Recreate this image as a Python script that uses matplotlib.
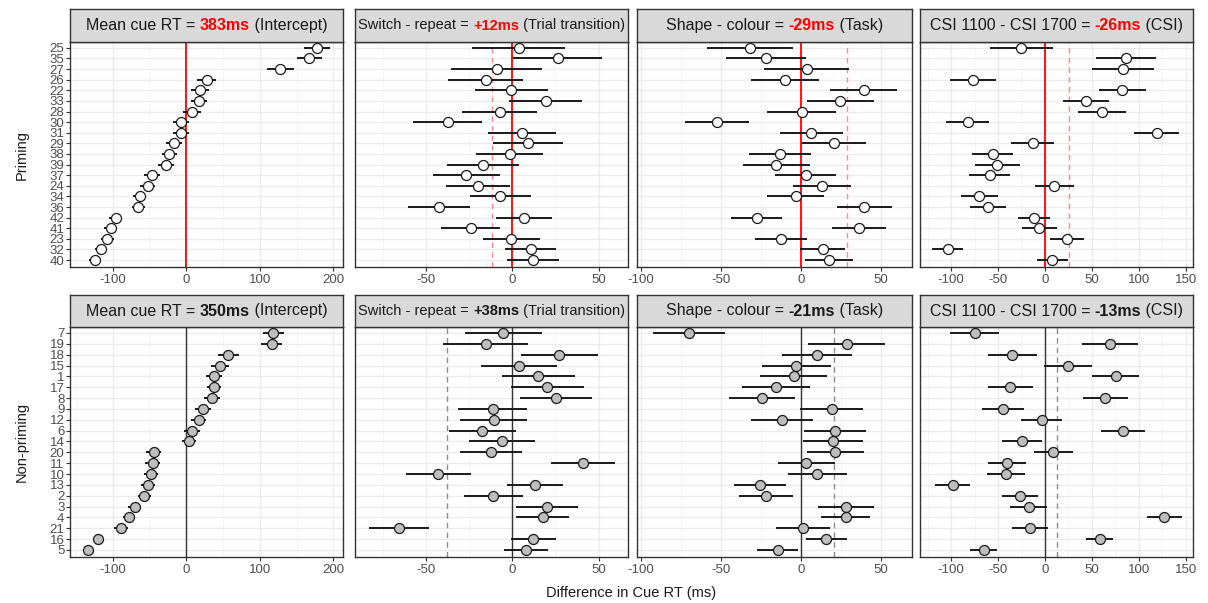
import matplotlib
matplotlib.use("Agg")
import matplotlib.pyplot as plt
from matplotlib.offsetbox import TextArea, HPacker, AnchoredOffsetbox
from matplotlib.ticker import MultipleLocator
import numpy as np

plt.rcParams['font.family'] = ['Liberation Sans', 'DejaVu Sans']
plt.rcParams['axes.unicode_minus'] = False

# ---------------------------------------------------------------- data
priming_ids = ["25", "35", "27", "26", "22", "33", "28", "30", "31", "29", "38",
               "39", "37", "24", "34", "36", "42", "41", "23", "32", "40"]
nonpriming_ids = ["7", "19", "18", "15", "1", "17", "8", "9", "12", "6", "14",
                  "20", "11", "10", "13", "2", "3", "4", "21", "16", "5"]

effect_names = ["Mean cue RT", "Switch - repeat", "Shape - colour", "CSI 1100 - CSI 1700"]
effect_tags = ["Intercept", "Trial transition", "Task", "CSI"]
fixed_priming = [383, 12, -29, -26]
fixed_nonpriming = [350, 38, -21, -13]

# Priming group: participant deviations (estimate) and interval half-widths
prim_intercept = [177.4, 167.0, 128.0, 27.7, 18.6, 16.9, 7.8, -7.2, -7.6, -16.3, -23.1,
                  -27.6, -47.1, -52.5, -63.4, -65.3, -96.1, -102.9, -107.5, -116.0, -124.6]
prim_intercept_hw = [18, 17, 18, 12.5, 12, 11, 12, 11, 11, 11, 10,
                     11, 11, 10, 9, 9, 8.5, 9, 9, 8, 8]
prim_switch = [3.9, 26.3, -8.9, -15.4, -0.6, 19.3, -7.3, -37.3, 5.8, 8.9, -1.5,
               -16.8, -26.6, -19.7, -6.8, -42.3, 6.8, -24.1, -0.6, 10.8, 12.0]
prim_switch_hw = [26.9, 25.6, 26.4, 21.5, 21.2, 21.0, 21.7, 19.9, 19.7, 20.3, 19.4,
                  20.8, 19.5, 18.5, 17.9, 17.8, 16.0, 17.3, 16.4, 14.7, 15.2]
prim_shape = [-31.7, -21.8, 3.7, -10.1, 39.3, 24.7, 0.4, -52.5, 6.6, 20.6, -12.8,
              -15.4, 2.9, 13.2, -3.3, 39.5, -27.6, 36.2, -12.3, 13.6, 17.7]
prim_shape_hw = [27.0, 25.2, 26.5, 21.2, 20.9, 20.8, 21.6, 19.9, 19.6, 20.2, 19.4,
                 20.9, 19.2, 18.3, 17.8, 17.2, 16.0, 16.9, 16.4, 14.3, 14.9]
prim_csi = [-25.0, 86.4, 82.9, -76.4, 82.1, 43.6, 60.7, -82.1, 118.9, -13.2, -55.7,
            -50.7, -58.6, 10.0, -70.0, -60.7, -11.8, -6.1, 23.6, -103.6, 7.9]
prim_csi_hw = [33.8, 31.7, 33.4, 24.5, 25.0, 24.5, 25.6, 22.9, 24.2, 22.9, 22.0,
               23.8, 21.8, 21.0, 19.7, 19.3, 17.2, 18.8, 17.9, 16.3, 16.5]

# Non-priming group
nonp_intercept = [118.4, 116.2, 57.1, 45.4, 38.1, 37.7, 34.5, 22.7, 16.9, 8.2, 3.7,
                  -44.4, -45.7, -48.0, -52.1, -57.1, -70.2, -78.0, -88.8, -119.7, -134.2]
nonp_intercept_hw = [14, 14, 14, 12, 11, 10, 11, 11, 10, 11, 10,
                     10, 10, 10, 9, 9, 9, 8, 9, 6, 6]
nonp_switch = [-5.2, -15.4, 27.3, 3.8, 15.0, 20.4, 25.2, -11.3, -10.6, -17.3, -6.0,
               -12.3, 41.0, -42.7, 13.1, -11.0, 20.0, 17.7, -65.4, 12.1, 8.1]
nonp_switch_hw = [22.4, 24.4, 22.2, 21.9, 21.1, 21.0, 20.7, 20.0, 19.4, 19.5, 19.0,
                  18.2, 18.7, 18.6, 16.2, 17.0, 17.9, 15.4, 17.5, 13.0, 12.8]
nonp_shape = [-70.0, 28.8, 10.1, -2.9, -4.5, -15.6, -24.5, 19.3, -11.7, 21.2, 20.0,
              21.6, 3.3, 10.3, -25.5, -21.8, 28.0, 28.0, 1.4, 16.0, -14.6]
nonp_shape_hw = [22.7, 24.1, 21.9, 21.5, 21.0, 21.0, 20.6, 19.7, 19.4, 19.4, 18.8,
                 18.0, 17.8, 18.3, 16.3, 17.1, 17.5, 15.4, 17.0, 12.8, 12.8]
nonp_csi = [-75.0, 68.9, -34.6, 24.3, 75.4, -36.8, 64.3, -44.6, -3.6, 82.9, -24.3,
            8.9, -40.4, -41.8, -98.2, -26.8, -17.5, 126.8, -15.7, 58.2, -65.0]
nonp_csi_hw = [26.2, 29.7, 26.0, 25.4, 25.0, 24.3, 24.3, 22.7, 22.0, 23.2, 21.6,
               20.4, 20.4, 20.0, 18.7, 18.9, 19.6, 18.7, 19.3, 14.3, 14.3]

rows = [
    dict(label="Priming", ids=priming_ids, fixed=fixed_priming,
         est=[prim_intercept, prim_switch, prim_shape, prim_csi],
         hw=[prim_intercept_hw, prim_switch_hw, prim_shape_hw, prim_csi_hw],
         accent="#FF0000", zero_color="#FF0000", zero_lw=1.3,
         dash_color="#FF8C8C", face="white"),
    dict(label="Non-priming", ids=nonpriming_ids, fixed=fixed_nonpriming,
         est=[nonp_intercept, nonp_switch, nonp_shape, nonp_csi],
         hw=[nonp_intercept_hw, nonp_switch_hw, nonp_shape_hw, nonp_csi_hw],
         accent="#1A1A1A", zero_color="#333333", zero_lw=1.0,
         dash_color="#8C8C8C", face="#BEBEBE"),
]

# ---------------------------------------------------------------- layout
W, H = 1208, 603
fig = plt.figure(figsize=(W / 100, H / 100), dpi=100)
fig.patch.set_facecolor("white")

col_px = [(70, 343), (355, 628), (637, 912), (920, 1193)]
row_px = [((9, 42), (42, 267)), ((295, 327), (327, 557))]
xlims = [(-158, 213), (-91, 67), (-102.5, 69.5), (-133, 157.5)]
major_step = [100, 50, 50, 50]
minor_step = [50, 25, 25, 25]
strip_size = [11.5, 10.5, 11.5, 11.5]

BORDER = "#333333"
TICKCOL = "#4D4D4D"


def rect(x0, x1, y0, y1):
    return [x0 / W, 1 - y1 / H, (x1 - x0) / W, (y1 - y0) / H]


for r, row in enumerate(rows):
    (sy0, sy1), (py0, py1) = row_px[r]
    n = len(row["ids"])
    ypos = np.arange(n)
    for c in range(4):
        x0, x1 = col_px[c]
        ax = fig.add_axes(rect(x0, x1, py0, py1))
        ax.set_facecolor("white")
        ax.set_xlim(*xlims[c])
        ax.set_ylim(n - 0.35, -0.55)
        ax.xaxis.set_major_locator(MultipleLocator(major_step[c]))
        ax.xaxis.set_minor_locator(MultipleLocator(minor_step[c]))
        ax.set_yticks(ypos)
        ax.grid(which="major", color="#EBEBEB", lw=1.0, zorder=0)
        ax.grid(which="minor", axis="x", color="#F4F4F4", lw=0.6, zorder=0)
        ax.set_axisbelow(True)
        for s in ax.spines.values():
            s.set_color(BORDER)
            s.set_linewidth(1.0)
        ax.tick_params(axis="x", which="major", length=3, width=0.8, color=BORDER,
                       labelsize=9.5, labelcolor=TICKCOL, pad=2)
        ax.tick_params(axis="x", which="minor", length=0)
        if c == 0:
            ax.set_yticklabels(row["ids"])
            ax.tick_params(axis="y", length=3, width=0.8, color=BORDER,
                           labelsize=9.5, labelcolor=TICKCOL, pad=1)
        else:
            ax.tick_params(axis="y", length=0, labelleft=False)

        # reference lines
        ax.axvline(0, color=row["zero_color"], lw=row["zero_lw"], zorder=1)
        if c > 0:
            ax.axvline(-row["fixed"][c], color=row["dash_color"], lw=1.0,
                       dashes=(4, 3), zorder=1)

        est = np.array(row["est"][c])
        hw = np.array(row["hw"][c])
        ax.hlines(ypos, est - hw, est + hw, color="#1A1A1A", lw=1.4, zorder=2)
        ax.plot(est, ypos, "o", ms=7.2, mfc=row["face"], mec="#1A1A1A",
                mew=0.9, zorder=3, ls="none")

        # facet strip
        sax = fig.add_axes(rect(x0, x1, sy0, sy1))
        sax.set_facecolor("#D9D9D9")
        sax.set_xticks([])
        sax.set_yticks([])
        for s in sax.spines.values():
            s.set_color(BORDER)
            s.set_linewidth(1.0)
        v = row["fixed"][c]
        value_txt = f"{v}ms" if c == 0 else f"{v:+d}ms"
        fs = strip_size[c]
        base = dict(fontsize=fs, color="#1A1A1A")
        parts = [TextArea(effect_names[c] + " = ", textprops=base),
                 TextArea(value_txt, textprops=dict(fontsize=fs, color=row["accent"],
                                                     fontweight="bold")),
                 TextArea(" (" + effect_tags[c] + ")", textprops=base)]
        box = HPacker(children=parts, align="baseline", pad=0, sep=0)
        anchored = AnchoredOffsetbox(loc="center", child=box, frameon=False,
                                     bbox_to_anchor=(0.5, 0.5),
                                     bbox_transform=sax.transAxes, pad=0,
                                     borderpad=0)
        sax.add_artist(anchored)

    fig.text(22 / W, 1 - (py0 + py1) / 2 / H, row["label"], rotation=90,
             ha="center", va="center", fontsize=10.5, color="#1A1A1A")

fig.text(631 / W, 1 - 593 / H, "Difference in Cue RT (ms)", ha="center",
         va="center", fontsize=10.5, color="#1A1A1A")

fig.savefig("out.png", dpi=100)
